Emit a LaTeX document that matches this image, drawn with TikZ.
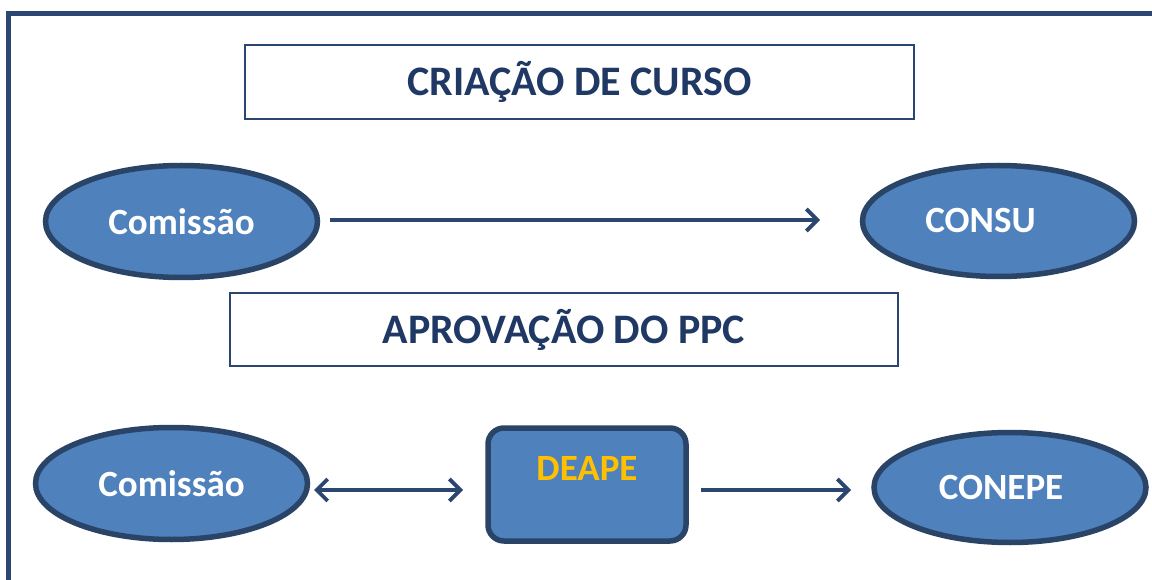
\documentclass[tikz,border=0pt]{standalone}
\usepackage{fontspec}
\setmainfont{Carlito}
\usetikzlibrary{shapes.geometric,arrows.meta}
\definecolor{navy}{HTML}{2B4670}
\definecolor{titletxt}{HTML}{1F3864}
\definecolor{fillblue}{HTML}{4F81BD}
\definecolor{edgeblue}{HTML}{2A4468}
\definecolor{deapey}{HTML}{FFC000}
\tikzset{
  x=1pt,y=-1pt,
  titlebox/.style={draw=navy,line width=2.5pt,fill=white,inner sep=0pt,
    font=\bfseries\fontsize{42}{48}\selectfont,text=titletxt},
  blob/.style={ellipse,draw=edgeblue,line width=5.5pt,fill=fillblue,inner sep=0pt,
    font=\bfseries\fontsize{37}{42}\selectfont,text=white},
  roundbox/.style={rectangle,rounded corners=16pt,draw=edgeblue,line width=5.5pt,fill=fillblue,inner sep=0pt},
  conn/.style={draw=navy,line width=3.8pt,-{Straight Barb[length=11pt,width=22pt,line width=3.8pt]}},
  dconn/.style={draw=navy,line width=3.8pt,{Straight Barb[length=11pt,width=22pt,line width=3.8pt]}-{Straight Barb[length=11pt,width=22pt,line width=3.8pt]}},
}
\begin{document}
\begin{tikzpicture}
\useasboundingbox (0,0) rectangle (1152,580);
% frame
\draw[navy,line width=5pt] (8.5,600) -- (8.5,13.5) -- (1170,13.5);
% titles
\node[titlebox,minimum width=669pt,minimum height=74pt] (t1) at (579.5,82) {CRIAÇÃO DE CURSO};
\node[titlebox,minimum width=668pt,minimum height=73pt] (t2) at (564,329.5) {APROVAÇÃO DO PPC};
% row 1
\node[blob,minimum width=272pt,minimum height=112pt] (c1) at (181.5,221.5) {Comissão};
\node[blob,minimum width=272pt,minimum height=111pt] (consu) at (998.5,221) {CONSU\hspace*{36pt}};
\coordinate (a1s) at (330,220);
\coordinate (a1e) at (820,220);
\draw[conn] (a1s) -- (a1e);
% row 2
\node[blob,minimum width=272pt,minimum height=112pt] (c2) at (171.5,483.5) {Comissão};
\node[roundbox,minimum width=198pt,minimum height=113pt] (deape) at (587,484.5) {};
\node[font=\bfseries\fontsize{37}{42}\selectfont,text=deapey] (dlab) at (587,469) {DEAPE};
\node[blob,minimum width=272pt,minimum height=110pt] (conepe) at (1010,487.5) {CONEPE\hspace*{18pt}};
\coordinate (b1) at (314,490);
\coordinate (b2) at (463,490);
\draw[dconn] (b1) -- (b2);
\coordinate (b3) at (701,490);
\coordinate (b4) at (851,490);
\draw[conn] (b3) -- (b4);
\end{tikzpicture}
\end{document}
